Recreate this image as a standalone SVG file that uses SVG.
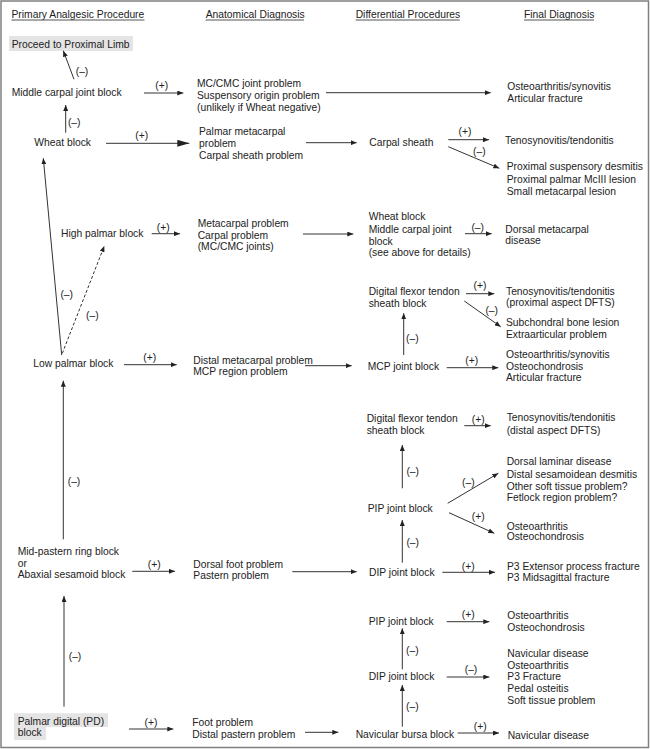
<svg xmlns="http://www.w3.org/2000/svg" width="650" height="749" viewBox="0 0 650 749">
<style>
text{font-family:"Liberation Sans",Arial,Helvetica,sans-serif;font-size:10.3px;fill:#222}
.lb{text-anchor:middle}
.c line{stroke:#333;stroke-width:1;fill:none}
.c line.a{marker-end:url(#ah)}
.c line.big{marker-end:url(#bh)}
.c line.d{stroke-dasharray:3,2}
.hl{fill:#e4e4e4}
.ul{stroke:#555;stroke-width:1}
</style>
<defs>
<marker id="ah" markerUnits="userSpaceOnUse" markerWidth="7" markerHeight="5" refX="6" refY="2.5" orient="auto"><path d="M0,0 L6,2.5 L0,5 z" fill="#222"/></marker>
<marker id="bh" markerUnits="userSpaceOnUse" markerWidth="13" markerHeight="7" refX="12" refY="3.5" orient="auto"><path d="M0,0 L12,3.5 L0,7 z" fill="#222"/></marker>
</defs>
<rect x="0" y="0" width="650" height="749" fill="#fff"/>
<rect x="1" y="1" width="647.5" height="746.5" fill="none" stroke="#808080" stroke-width="1.5"/>
<g id="headers">
<text x="11.5" y="17.7">Primary Analgesic Procedure</text>
<text x="205.7" y="17.7">Anatomical Diagnosis</text>
<text x="355.7" y="17.7">Differential Procedures</text>
<text x="524" y="17.7">Final Diagnosis</text>
<line class="ul" x1="11.5" y1="20" x2="144.5" y2="20"/>
<line class="ul" x1="205.7" y1="20" x2="304" y2="20"/>
<line class="ul" x1="355.7" y1="20" x2="459.7" y2="20"/>
<line class="ul" x1="524" y1="20" x2="594" y2="20"/>
</g>
<g id="n_proximal"><rect class="hl" x="9" y="36" width="124" height="15"/><text x="11.7" y="48">Proceed to Proximal Limb</text></g>
<g id="n_midcarpal"><text x="11.7" y="96">Middle carpal joint block</text></g>
<g id="n_wheat"><text x="34.3" y="146">Wheat block</text></g>
<g id="n_highpalmar"><text x="61" y="237.4">High palmar block</text></g>
<g id="n_lowpalmar"><text x="33.3" y="367.4">Low palmar block</text></g>
<g id="n_midpastern"><text x="17.7" y="555.4">Mid-pastern ring block</text><text x="17.7" y="567">or</text><text x="17.7" y="578.4">Abaxial sesamoid block</text></g>
<g id="n_pd"><path class="hl" d="M14,713.3 H108 V727 H46 V740 H14 Z"/><text x="17.7" y="724.7">Palmar digital (PD)</text><text x="17.7" y="736">block</text></g>
<g id="a_mccmc"><text x="197" y="87">MC/CMC joint problem</text><text x="197" y="98.7">Suspensory origin problem</text><text x="197" y="111">(unlikely if Wheat negative)</text></g>
<g id="a_palmar"><text x="199" y="135.4">Palmar metacarpal</text><text x="199" y="147.4">problem</text><text x="199" y="158.7">Carpal sheath problem</text></g>
<g id="a_metacarpal"><text x="197.7" y="227.4">Metacarpal problem</text><text x="197.7" y="238.7">Carpal problem</text><text x="197.7" y="250.4">(MC/CMC joints)</text></g>
<g id="a_distalmc"><text x="193.3" y="363.7">Distal metacarpal problem</text><text x="193.3" y="375.4">MCP region problem</text></g>
<g id="a_dorsalfoot"><text x="193.3" y="567.7">Dorsal foot problem</text><text x="193.3" y="578.7">Pastern problem</text></g>
<g id="a_foot"><text x="192.3" y="726.4">Foot problem</text><text x="192.3" y="737.7">Distal pastern problem</text></g>
<g id="d_carpalsheath"><text x="369.3" y="146">Carpal sheath</text></g>
<g id="d_wheatmc"><text x="368.7" y="220.4">Wheat block</text><text x="368.7" y="232.7">Middle carpal joint</text><text x="368.7" y="244.7">block</text><text x="368.7" y="256.4">(see above for details)</text></g>
<g id="d_dfts1"><text x="368.7" y="295.4">Digital flexor tendon</text><text x="368.7" y="307">sheath block</text></g>
<g id="d_mcp"><text x="367.7" y="370.4">MCP joint block</text></g>
<g id="d_dfts2"><text x="366.7" y="422">Digital flexor tendon</text><text x="366.7" y="434.4">sheath block</text></g>
<g id="d_pip1"><text x="367.7" y="512">PIP joint block</text></g>
<g id="d_dip1"><text x="369" y="575.7">DIP joint block</text></g>
<g id="d_pip2"><text x="368.7" y="624.7">PIP joint block</text></g>
<g id="d_dip2"><text x="368.7" y="679.7">DIP joint block</text></g>
<g id="d_navicular"><text x="355.7" y="738">Navicular bursa block</text></g>
<g id="f_oa1"><text x="507.3" y="89.7">Osteoarthritis/synovitis</text><text x="507.3" y="101.7">Articular fracture</text></g>
<g id="f_teno1"><text x="505" y="144">Tenosynovitis/tendonitis</text></g>
<g id="f_proxsusp"><text x="506.7" y="170.4">Proximal suspensory desmitis</text><text x="506.7" y="182.7">Proximal palmar McIII lesion</text><text x="506.7" y="194.7">Small metacarpal lesion</text></g>
<g id="f_dorsalmc"><text x="505.3" y="232.7">Dorsal metacarpal</text><text x="505.3" y="244.4">disease</text></g>
<g id="f_teno2"><text x="506" y="294.7">Tenosynovitis/tendonitis</text><text x="506" y="306.4">(proximal aspect DFTS)</text></g>
<g id="f_subchondral"><text x="506" y="326.4">Subchondral bone lesion</text><text x="506" y="338">Extraarticular problem</text></g>
<g id="f_oa2"><text x="506" y="358">Osteoarthritis/synovitis</text><text x="506" y="369.7">Osteochondrosis</text><text x="506" y="381.4">Articular fracture</text></g>
<g id="f_teno3"><text x="506.7" y="421.4">Tenosynovitis/tendonitis</text><text x="506.7" y="433.7">(distal aspect DFTS)</text></g>
<g id="f_dorsallaminar"><text x="506.7" y="465.4">Dorsal laminar disease</text><text x="506.7" y="478">Distal sesamoidean desmitis</text><text x="506.7" y="489.7">Other soft tissue problem?</text><text x="506.7" y="501.4">Fetlock region problem?</text></g>
<g id="f_oa3"><text x="506.7" y="529.7">Osteoarthritis</text><text x="506.7" y="540.4">Osteochondrosis</text></g>
<g id="f_p3"><text x="507" y="569.7">P3 Extensor process fracture</text><text x="507" y="581.4">P3 Midsagittal fracture</text></g>
<g id="f_oa4"><text x="507.3" y="618.7">Osteoarthritis</text><text x="507.3" y="631">Osteochondrosis</text></g>
<g id="f_navicular"><text x="507.3" y="657">Navicular disease</text><text x="507.3" y="668.7">Osteoarthritis</text><text x="507.3" y="680.4">P3 Fracture</text><text x="507.3" y="692">Pedal osteitis</text><text x="507.3" y="703.7">Soft tissue problem</text></g>
<g id="f_navdisease"><text x="507.7" y="738.7">Navicular disease</text></g>
<g id="connectors" class="c">
<line class="a" x1="74" y1="79.3" x2="63.3" y2="50.7"/>
<line class="a" x1="144" y1="93" x2="183.3" y2="93"/>
<line class="a" x1="65.7" y1="132.7" x2="65.7" y2="105"/>
<line class="big" x1="106" y1="143.3" x2="189.3" y2="143.3"/>
<line class="a" x1="326" y1="92.7" x2="490.7" y2="92.7"/>
<line class="a" x1="306" y1="142.7" x2="356.7" y2="142.7"/>
<line class="a" x1="448.3" y1="139.7" x2="489" y2="139.7"/>
<line class="a" x1="448.3" y1="146.7" x2="499.3" y2="168.3"/>
<line class="a" x1="61.7" y1="355" x2="43.3" y2="158.3"/>
<line class="a d" x1="62.3" y1="353.3" x2="104.3" y2="246"/>
<line class="a" x1="151.7" y1="233.7" x2="180" y2="233.7"/>
<line class="a" x1="303" y1="234" x2="353.3" y2="234"/>
<line class="a" x1="465" y1="233.7" x2="491.7" y2="233.7"/>
<line class="a" x1="466" y1="293.7" x2="494.3" y2="293.7"/>
<line class="a" x1="464.3" y1="301" x2="500.7" y2="326.7"/>
<line class="a" x1="403.7" y1="355" x2="403.7" y2="313.3"/>
<line class="a" x1="124" y1="364.7" x2="176.7" y2="364.7"/>
<line class="a" x1="305" y1="365.7" x2="351.7" y2="365.7"/>
<line class="a" x1="446.7" y1="367.7" x2="498.3" y2="367.7"/>
<line class="a" x1="63.3" y1="539.3" x2="63.3" y2="380.7"/>
<line class="a" x1="132.3" y1="571.3" x2="175" y2="571.3"/>
<line class="a" x1="292.3" y1="571.7" x2="356.7" y2="571.7"/>
<line class="a" x1="464.3" y1="425.7" x2="490.7" y2="425.7"/>
<line class="a" x1="402.3" y1="488.3" x2="402.3" y2="445"/>
<line class="a" x1="447.7" y1="503.3" x2="498.3" y2="473.3"/>
<line class="a" x1="449" y1="512.7" x2="494.3" y2="533.3"/>
<line class="a" x1="402.3" y1="562.7" x2="402.3" y2="520"/>
<line class="a" x1="442.3" y1="572.3" x2="495" y2="572.3"/>
<line class="a" x1="64" y1="706.7" x2="64" y2="596"/>
<line class="a" x1="129" y1="729" x2="173.3" y2="729"/>
<line class="a" x1="305" y1="732.3" x2="338.3" y2="732.3"/>
<line class="a" x1="446.7" y1="621.7" x2="489.3" y2="621.7"/>
<line class="a" x1="402.3" y1="669.3" x2="402.3" y2="628.3"/>
<line class="a" x1="446.7" y1="677" x2="489.3" y2="677"/>
<line class="a" x1="402.3" y1="726.7" x2="402.3" y2="685"/>
<line class="a" x1="457.7" y1="733" x2="499" y2="733"/>
<text class="lb" x="82" y="75.4">(–)</text>
<text class="lb" x="161.7" y="89.4">(+)</text>
<text class="lb" x="74.2" y="126.4">(–)</text>
<text class="lb" x="141.7" y="138.7">(+)</text>
<text class="lb" x="465" y="135.4">(+)</text>
<text class="lb" x="479.3" y="155.4">(–)</text>
<text class="lb" x="66.7" y="298">(–)</text>
<text class="lb" x="92.3" y="319">(–)</text>
<text class="lb" x="163.3" y="231.4">(+)</text>
<text class="lb" x="477.7" y="231.4">(–)</text>
<text class="lb" x="480" y="289.4">(+)</text>
<text class="lb" x="491.7" y="313.7">(–)</text>
<text class="lb" x="412.3" y="342">(–)</text>
<text class="lb" x="149.7" y="361.4">(+)</text>
<text class="lb" x="471.7" y="364.4">(+)</text>
<text class="lb" x="74" y="484.7">(–)</text>
<text class="lb" x="154.3" y="568">(+)</text>
<text class="lb" x="478.3" y="422.7">(+)</text>
<text class="lb" x="412.7" y="474.7">(–)</text>
<text class="lb" x="468.3" y="486.4">(–)</text>
<text class="lb" x="478.3" y="520.4">(+)</text>
<text class="lb" x="412.7" y="546.4">(–)</text>
<text class="lb" x="468.3" y="569.7">(+)</text>
<text class="lb" x="75" y="660.4">(–)</text>
<text class="lb" x="151" y="726">(+)</text>
<text class="lb" x="468.3" y="618">(+)</text>
<text class="lb" x="412.3" y="653.7">(–)</text>
<text class="lb" x="471" y="673">(–)</text>
<text class="lb" x="412.3" y="710.4">(–)</text>
<text class="lb" x="480.3" y="730.4">(+)</text>
</g>
</svg>
